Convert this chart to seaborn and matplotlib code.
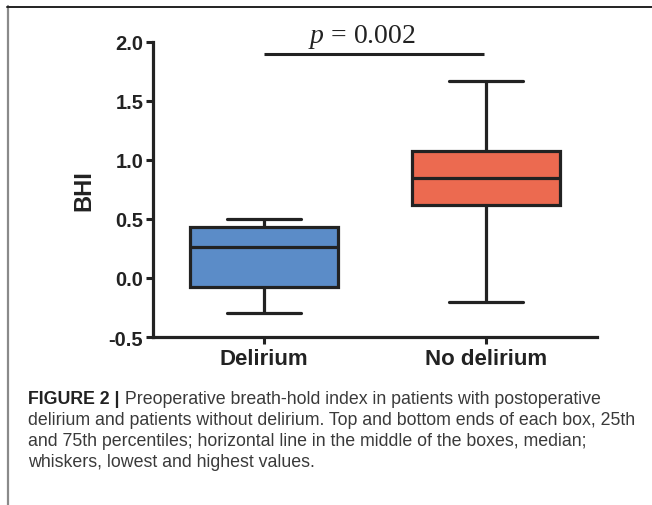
import numpy as np
import pandas as pd
import matplotlib
matplotlib.use("Agg")
import matplotlib.pyplot as plt
from matplotlib.lines import Line2D
import seaborn as sns

# --- data (min, q1, median, q3, max) ---
groups = ["Delirium", "No delirium"]
delirium_bhi = [-0.30, -0.08, 0.26, 0.43, 0.50]
no_delirium_bhi = [-0.20, 0.62, 0.85, 1.08, 1.67]
box_colors = ["#5b8cc8", "#ec6a50"]
y_ticks = [-0.5, 0.0, 0.5, 1.0, 1.5, 2.0]
p_label = "0.002"
sig_y = 1.90

caption_bold = "FIGURE 2 |"
caption_lines = [
    " Preoperative breath-hold index in patients with postoperative",
    "delirium and patients without delirium. Top and bottom ends of each box, 25th",
    "and 75th percentiles; horizontal line in the middle of the boxes, median;",
    "whiskers, lowest and highest values.",
]

df = pd.DataFrame({
    "group": [groups[0]] * len(delirium_bhi) + [groups[1]] * len(no_delirium_bhi),
    "BHI": delirium_bhi + no_delirium_bhi,
})

sns.set_style("white")
plt.rcParams["font.family"] = ["Liberation Sans", "DejaVu Sans"]
plt.rcParams["mathtext.fontset"] = "custom"
plt.rcParams["mathtext.it"] = "Liberation Serif:italic"
plt.rcParams["mathtext.rm"] = "Liberation Serif"

dark = "#222222"
fig = plt.figure(figsize=(6.52, 5.06), dpi=100)
ax = fig.add_axes([153 / 652, 1 - 338 / 506, 444 / 652, 295 / 506])

sns.boxplot(data=df, x="group", y="BHI", hue="group", palette=box_colors,
            legend=False, whis=(0, 100), width=0.67, linewidth=2.3,
            linecolor=dark, fliersize=0, saturation=1, ax=ax)

ax.set_ylim(-0.5, 2.0)
ax.set_xlim(-0.5, 1.5)
ax.set_yticks(y_ticks)
ax.set_yticklabels([f"{v:.1f}" for v in y_ticks])
sns.despine(ax=ax)
for side in ["left", "bottom"]:
    ax.spines[side].set_linewidth(2.3)
    ax.spines[side].set_color(dark)

ax.tick_params(axis="y", length=5, width=2.2, color=dark, pad=2,
               labelsize=14.5, labelcolor=dark, left=True)
ax.tick_params(axis="x", length=5, width=2.2, color=dark, pad=3,
               labelsize=16, labelcolor=dark, bottom=True)
for lab in ax.get_yticklabels() + ax.get_xticklabels():
    lab.set_fontweight("bold")

ax.set_xlabel("")
ax.set_ylabel("BHI", fontsize=17, fontweight="bold", color=dark)
ax.yaxis.set_label_coords(-0.13, 0.5)

# significance bar
ax.plot([0, 0.99], [sig_y, sig_y], color=dark, lw=2.2, clip_on=False,
        solid_capstyle="butt")
ax.text(0.44, 2.0, r"$\mathit{p}$ = " + p_label, ha="center", va="baseline",
        fontsize=20, family="Liberation Serif", color=dark)

# frame lines
fig.add_artist(Line2D([8 / 652, 8 / 652], [0, 1 - 7 / 506], color="#8a8a8a", lw=1.6))
fig.add_artist(Line2D([7 / 652, 1], [1 - 8 / 506, 1 - 8 / 506], color=dark, lw=1.4))

# caption
cap_x = 28 / 652
cap_y = [1 - 404 / 506, 1 - 425 / 506, 1 - 446 / 506, 1 - 467 / 506]
cap_color = "#3a3a3a"
cap_size = 12.8
t1 = fig.text(cap_x, cap_y[0], caption_bold, fontsize=cap_size, fontweight="bold",
              color=dark, va="baseline")
ax.annotate(caption_lines[0], xy=(1, 0), xycoords=t1, fontsize=cap_size,
            color=cap_color, va="bottom", ha="left", annotation_clip=False)
for line, y in zip(caption_lines[1:], cap_y[1:]):
    fig.text(cap_x, y, line, fontsize=cap_size, color=cap_color, va="baseline")

fig.savefig("out.png", dpi=100)
